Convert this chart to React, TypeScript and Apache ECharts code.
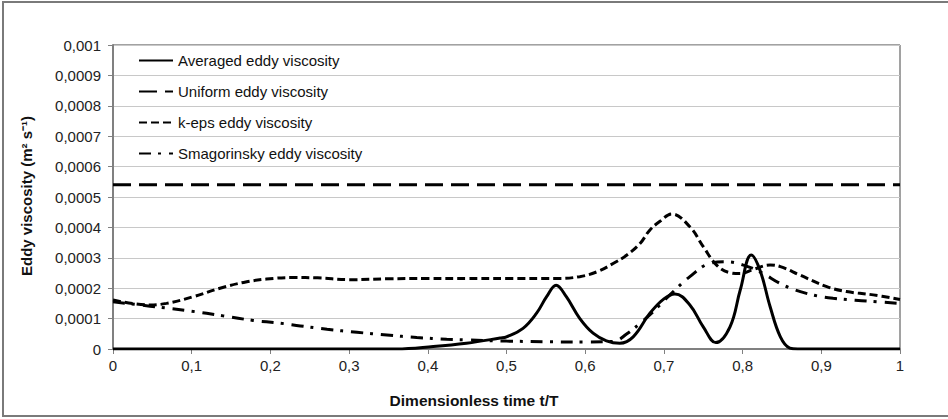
import React, { useEffect, useRef } from "react";
import * as echarts from "echarts";

const FONT = "'Liberation Sans', Arial, Helvetica, sans-serif";

const xTicks = [0, 0.1, 0.2, 0.3, 0.4, 0.5, 0.6, 0.7, 0.8, 0.9, 1];
const seriesNames = [
  "Averaged eddy viscosity",
  "Uniform eddy viscosity",
  "k-eps eddy viscosity",
  "Smagorinsky eddy viscosity",
];

const avgT = [0, 0.1, 0.2, 0.3, 0.36, 0.407, 0.449, 0.492, 0.5, 0.521, 0.538, 0.551, 0.563, 0.576, 0.593, 0.61, 0.627, 0.644, 0.661, 0.682, 0.7, 0.714, 0.733, 0.75, 0.766, 0.784, 0.797, 0.811, 0.822, 0.835, 0.848, 0.86, 0.87, 0.9, 1];
const avgV = [0, 0, 0, 0, 0, 0.000008, 0.000019, 0.000036, 0.00004, 0.000068, 0.000117, 0.000172, 0.00021, 0.000172, 0.000101, 0.000052, 0.000027, 0.000019, 0.00004, 0.000117, 0.000165, 0.000181, 0.000145, 0.000073, 0.000021, 0.000073, 0.000194, 0.000309, 0.00026, 0.000139, 0.00004, 0.000003, 0, 0, 0];

const uniT = [0, 1];
const uniV = [0.00054, 0.00054];

const kepsT = [0, 0.047, 0.068, 0.102, 0.136, 0.166, 0.195, 0.229, 0.26, 0.301, 0.35, 0.4, 0.45, 0.5, 0.564, 0.593, 0.615, 0.636, 0.653, 0.67, 0.682, 0.695, 0.71, 0.733, 0.75, 0.767, 0.784, 0.797, 0.814, 0.835, 0.848, 0.873, 0.907, 0.932, 0.966, 1];
const kepsV = [0.000161, 0.000145, 0.00015, 0.000172, 0.0002, 0.000219, 0.00023, 0.000235, 0.000234, 0.000228, 0.000231, 0.000232, 0.000232, 0.000232, 0.000232, 0.000238, 0.000254, 0.000282, 0.000309, 0.000348, 0.000391, 0.00042, 0.000444, 0.000402, 0.000337, 0.000276, 0.000251, 0.000248, 0.000262, 0.000276, 0.000271, 0.000243, 0.000205, 0.000189, 0.000178, 0.000163];

const smagT = [0, 0.047, 0.098, 0.14, 0.178, 0.212, 0.238, 0.272, 0.31, 0.348, 0.386, 0.424, 0.449, 0.5, 0.55, 0.6, 0.636, 0.653, 0.67, 0.682, 0.712, 0.733, 0.759, 0.78, 0.801, 0.822, 0.852, 0.881, 0.915, 0.958, 1];
const smagV = [0.000155, 0.000141, 0.000125, 0.000109, 0.000094, 0.000085, 0.000076, 0.000065, 0.000055, 0.000046, 0.000038, 0.000032, 0.00003, 0.000026, 0.000024, 0.000023, 0.000025, 0.00005, 0.000085, 0.000112, 0.000189, 0.000238, 0.000282, 0.000287, 0.000276, 0.000254, 0.00021, 0.000183, 0.000167, 0.000158, 0.00015];

const zip = (t: number[], v: number[]) => t.map((x, i) => [x, v[i]]);

const fmtY = (v: number) => (v === 0 ? "0" : String(+v.toFixed(4)).replace(".", ","));
const fmtX = (v: number) => (v === 0 ? "0" : String(+v.toFixed(1)).replace(".", ","));

export default function App() {
  const ref = useRef<HTMLDivElement>(null);
  useEffect(() => {
    if (!ref.current) return;
    const chart = echarts.init(ref.current, undefined, { renderer: "svg" });
    const axisColor = "#808080";
    chart.setOption({
      animation: false,
      backgroundColor: "#ffffff",
      textStyle: { fontFamily: FONT },
      grid: {
        left: 113,
        right: 48,
        top: 45,
        bottom: 70,
        show: true,
        borderColor: "#444444",
        borderWidth: 1,
        containLabel: false,
      },
      legend: {
        orient: "vertical",
        left: 138,
        top: 53,
        itemWidth: 34,
        itemHeight: 14,
        itemGap: 16,
        data: seriesNames,
        itemStyle: { opacity: 0, color: "rgba(0,0,0,0)", borderWidth: 0 },
        textStyle: { fontSize: 15, color: "#111", fontFamily: FONT, lineHeight: 14 },
        padding: 0,
      },
      xAxis: {
        type: "value",
        min: 0,
        max: 1,
        interval: 0.1,
        axisLine: { show: true, onZero: false, lineStyle: { color: axisColor, width: 2 } },
        axisTick: { show: true, length: 5, lineStyle: { color: axisColor, width: 1 } },
        axisLabel: { formatter: fmtX, fontSize: 15, color: "#222", margin: 9, fontFamily: FONT },
        splitLine: { show: false },
      },
      yAxis: {
        type: "value",
        min: 0,
        max: 0.001,
        interval: 0.0001,
        axisLine: { show: true, lineStyle: { color: axisColor, width: 2 } },
        axisTick: { show: true, length: 5, lineStyle: { color: axisColor, width: 1 } },
        axisLabel: { formatter: fmtY, fontSize: 15, color: "#222", margin: 12, fontFamily: FONT },
        splitLine: { show: true, lineStyle: { color: "#c8c8c8", width: 1 } },
      },
      graphic: [
        {
          type: "rect",
          shape: { x: 3, y: 2, width: 980, height: 414 },
          style: { fill: "none", stroke: "#7a7a7a", lineWidth: 2 },
          z: -10,
          silent: true,
        },
        {
          type: "text",
          x: 26,
          y: 196,
          rotation: Math.PI / 2,
          style: {
            text: "Eddy viscosity (m² s⁻¹)",
            fontSize: 15,
            fontWeight: "bold",
            fontFamily: FONT,
            fill: "#111",
            align: "center",
            verticalAlign: "middle",
          },
        },
        {
          type: "text",
          x: 474,
          y: 400,
          style: {
            text: "Dimensionless time t/T",
            fontSize: 15.5,
            fontWeight: "bold",
            fontFamily: FONT,
            fill: "#111",
            align: "center",
            verticalAlign: "middle",
          },
        },
      ],
      series: [
        {
          name: seriesNames[0],
          type: "line",
          data: zip(avgT, avgV),
          showSymbol: false,
          symbol: "none",
          smooth: 0.4,
          lineStyle: { color: "#000", width: 3, type: "solid" },
          itemStyle: { color: "#000" },
          z: 5,
        },
        {
          name: seriesNames[1],
          type: "line",
          data: zip(uniT, uniV),
          showSymbol: false,
          symbol: "none",
          lineStyle: { color: "#000", width: 3, type: [18, 8] },
          itemStyle: { color: "#000" },
          z: 3,
        },
        {
          name: seriesNames[2],
          type: "line",
          data: zip(kepsT, kepsV),
          showSymbol: false,
          symbol: "none",
          smooth: 0.4,
          lineStyle: { color: "#000", width: 3, type: [8, 4] },
          itemStyle: { color: "#000" },
          z: 3,
        },
        {
          name: seriesNames[3],
          type: "line",
          data: zip(smagT, smagV),
          showSymbol: false,
          symbol: "none",
          smooth: 0.4,
          lineStyle: { color: "#000", width: 3, type: [12, 7, 3, 8] },
          itemStyle: { color: "#000" },
          z: 3,
        },
      ],
    });
    return () => chart.dispose();
  }, []);
  return (
    <div
      ref={ref}
      style={{ position: "fixed", left: 0, top: 0, width: 948, height: 419, background: "#fff" }}
    />
  );
}
